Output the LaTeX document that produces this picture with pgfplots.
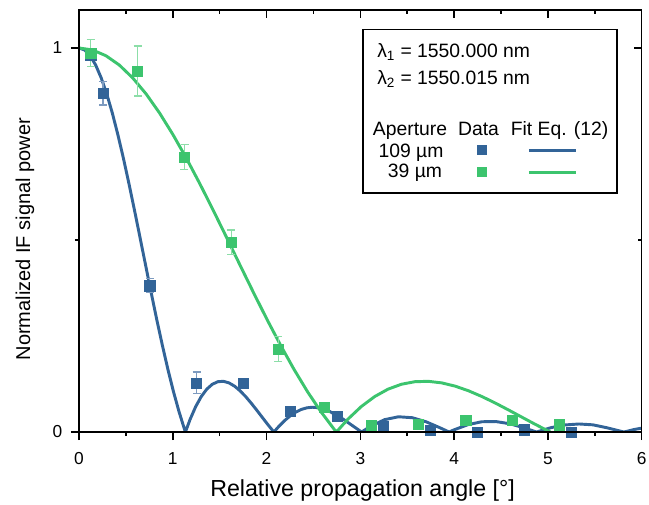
\documentclass[border=0pt]{standalone}
\usepackage{fontspec}
\setmainfont{Liberation Sans}
\usepackage{pgfplots}
\usepackage{pgfplotstable}
\pgfplotsset{compat=1.18}
\definecolor{cblue}{RGB}{50,100,152}
\definecolor{cgreen}{RGB}{60,196,110}
\definecolor{cblueerr}{RGB}{125,155,192}
\definecolor{cgreenerr}{RGB}{140,222,168}

\pgfplotstableread{
x y e
0.125 0.980 0.010
0.255 0.882 0.030
0.755 0.381 0.018
1.255 0.128 0.028
1.755 0.128 0.005
2.250 0.053 0.005
2.752 0.040 0.005
3.248 0.016 0.004
3.748 0.005 0.004
4.250 0.000 0.004
4.750 0.006 0.004
5.248 0.000 0.004
}\bluedata

\pgfplotstableread{
x y e
0.125 0.987 0.035
0.625 0.940 0.065
1.125 0.716 0.032
1.625 0.494 0.032
2.125 0.216 0.033
2.620 0.065 0.010
3.120 0.017 0.004
3.620 0.020 0.004
4.125 0.031 0.004
4.620 0.031 0.004
5.120 0.019 0.004
}\greendata

\begin{document}
\begin{tikzpicture}
\useasboundingbox (-59.25pt,-54pt) rectangle (427.5pt,324pt);
\begin{axis}[
  at={(0,0)}, anchor=south west,
  scale only axis, width=422pt, height=316.5pt,
  xmin=0, xmax=6, ymin=0, ymax=1.099,
  xtick={0,1,2,3,4,5,6}, minor xtick={0.5,1.5,2.5,3.5,4.5,5.5},
  ytick={0,1}, minor ytick={0.5},
  xtick pos=left, ytick pos=left,
  tick align=outside,
  major tick length=6pt, minor tick length=3pt,
  axis line style={line width=1.1pt},
  every tick/.style={line width=1.1pt, black},
  /pgf/number format/assume math mode=true,
  ticklabel style={font=\fontsize{13}{15}\selectfont},
  xticklabel style={yshift=-6pt},
  yticklabel style={xshift=-3pt},
  xlabel={Relative propagation angle [°]},
  ylabel={Normalized IF signal power},
  xlabel style={font=\fontsize{17.4}{20}\selectfont, at={(axis description cs:0.504,-0.1517)}, anchor=base},
  ylabel style={font=\fontsize{15}{18}\selectfont, at={(axis description cs:-0.087,0.457)}, anchor=base},
]
% fit curves
\addplot[cblue, line width=2.2pt] coordinates {
(0,1) (0.0592,0.9950) (0.1185,0.9800) (0.1777,0.9557) (0.2370,0.9220) (0.2962,0.8802)
(0.3555,0.8305) (0.4147,0.7741) (0.4740,0.7124) (0.5332,0.6461) (0.5924,0.5767)
(0.6517,0.5055) (0.7109,0.4335) (0.7702,0.3622) (0.8294,0.2926) (0.8887,0.2261)
(0.9479,0.1633) (1.0071,0.1054) (1.0664,0.0531) (1.1256,0.0067) (1.1350,0)
(1.1849,0.0330) (1.2441,0.0660) (1.3034,0.0922) (1.3626,0.1116) (1.4219,0.1244)
(1.4811,0.1310) (1.5403,0.1320) (1.5996,0.1279) (1.6588,0.1194) (1.7181,0.1072)
(1.7773,0.0922) (1.8366,0.0751) (1.8958,0.0568) (1.9551,0.0379) (2.0143,0.0192)
(2.0735,0.0013) (2.0782,0) (2.1328,0.0151) (2.1920,0.0296) (2.2513,0.0419)
(2.3105,0.0516) (2.3698,0.0587) (2.4290,0.0629) (2.4882,0.0645) (2.5475,0.0634)
(2.6067,0.0600) (2.6660,0.0545) (2.8141,0.0340) (2.9622,0.0087) (3.0136,0)
(3.1103,0.0150) (3.2584,0.0321) (3.4065,0.0397) (3.5546,0.0372) (3.7028,0.0265)
(3.8509,0.0108) (3.9467,0) (3.9990,0.0056) (4.1471,0.0191) (4.2952,0.0267)
(4.4433,0.0273) (4.5914,0.0216) (4.7395,0.0113) (4.8789,0) (5.0357,0.0115)
(5.1839,0.0184) (5.3320,0.0209) (5.4801,0.0187) (5.6282,0.0111) (5.8106,0)
(5.9244,0.0067) (6.0725,0.0133)
};
\addplot[cgreen, line width=2.2pt] coordinates {
(0,1) (0.1433,0.9950) (0.2866,0.9800) (0.4298,0.9557) (0.5731,0.9220) (0.7164,0.8802)
(0.8597,0.8305) (1.0029,0.7741) (1.1462,0.7124) (1.2895,0.6461) (1.4328,0.5767)
(1.5761,0.5055) (1.7193,0.4335) (1.8626,0.3622) (2.0059,0.2926) (2.1492,0.2261)
(2.2924,0.1633) (2.4357,0.1054) (2.5790,0.0531) (2.7223,0.0067) (2.7450,0)
(2.8656,0.0330) (3.0088,0.0660) (3.1521,0.0922) (3.2954,0.1116) (3.4387,0.1244)
(3.5820,0.1310) (3.7252,0.1320) (3.8685,0.1279) (4.0118,0.1194) (4.1551,0.1072)
(4.2983,0.0922) (4.4416,0.0751) (4.5849,0.0568) (4.7282,0.0379) (4.8715,0.0192)
(5.0147,0.0013) (5.0259,0)
};
% data
\addplot[only marks, mark=square*, mark size=3.8pt, color=cblue,
  error bars/.cd, y dir=both, y explicit,
  error bar style={cblueerr, line width=1pt},
  error mark options={rotate=90, mark size=3pt, cblueerr, line width=1pt}]
  table[x=x, y=y, y error=e] {\bluedata};
\addplot[only marks, mark=square*, mark size=3.8pt, color=cgreen,
  error bars/.cd, y dir=both, y explicit,
  error bar style={cgreenerr, line width=1pt},
  error mark options={rotate=90, mark size=3pt, cgreenerr, line width=1pt}]
  table[x=x, y=y, y error=e] {\greendata};
% legend
\draw[line width=1pt, black] (axis cs:3.028,0.622) rectangle (axis cs:5.737,1.049);
\node[anchor=base west, font=\fontsize{14.5}{17}\selectfont, inner sep=0pt] at (axis cs:3.178,0.974) {λ\textsubscript{1} = 1550.000 nm};
\node[anchor=base west, font=\fontsize{14.5}{17}\selectfont, inner sep=0pt] at (axis cs:3.178,0.904) {λ\textsubscript{2} = 1550.015 nm};
\node[anchor=base, font=\fontsize{14.5}{17}\selectfont, inner sep=0pt] at (axis cs:3.530,0.7734) {Aperture};
\node[anchor=base, font=\fontsize{14.5}{17}\selectfont, inner sep=0pt] at (axis cs:4.260,0.7734) {Data};
\node[anchor=base, font=\fontsize{14.5}{17}\selectfont, inner sep=0pt] at (axis cs:5.124,0.7734) {Fit Eq. (12)};
\node[anchor=base, font=\fontsize{14.5}{17}\selectfont, inner sep=0pt] at (axis cs:3.540,0.716) {109 µm};
\node[anchor=base, font=\fontsize{14.5}{17}\selectfont, inner sep=0pt] at (axis cs:3.583,0.664) {39 µm};
\addplot[only marks, mark=square*, mark size=3.4pt, color=cblue] coordinates {(4.297,0.734)};
\addplot[only marks, mark=square*, mark size=3.4pt, color=cgreen] coordinates {(4.297,0.677)};
\addplot[cblue, line width=2.2pt] coordinates {(4.798,0.734) (5.300,0.734)};
\addplot[cgreen, line width=2.2pt] coordinates {(4.798,0.677) (5.300,0.677)};
\end{axis}
\begin{axis}[
  at={(0,0)}, anchor=south west,
  scale only axis, width=422pt, height=316.5pt,
  xmin=0, xmax=6, ymin=0, ymax=1.099,
  xtick={0,1,2,3,4,5,6}, minor xtick={0.5,1.5,2.5,3.5,4.5,5.5},
  ytick={0,1}, minor ytick={0.5},
  xtick pos=right, ytick pos=right,
  tick align=inside,
  xticklabels={}, yticklabels={},
  major tick length=6pt, minor tick length=3pt,
  axis line style={line width=1.1pt},
  every tick/.style={line width=1.1pt, black},
]
\end{axis}
\end{tikzpicture}
\end{document}
